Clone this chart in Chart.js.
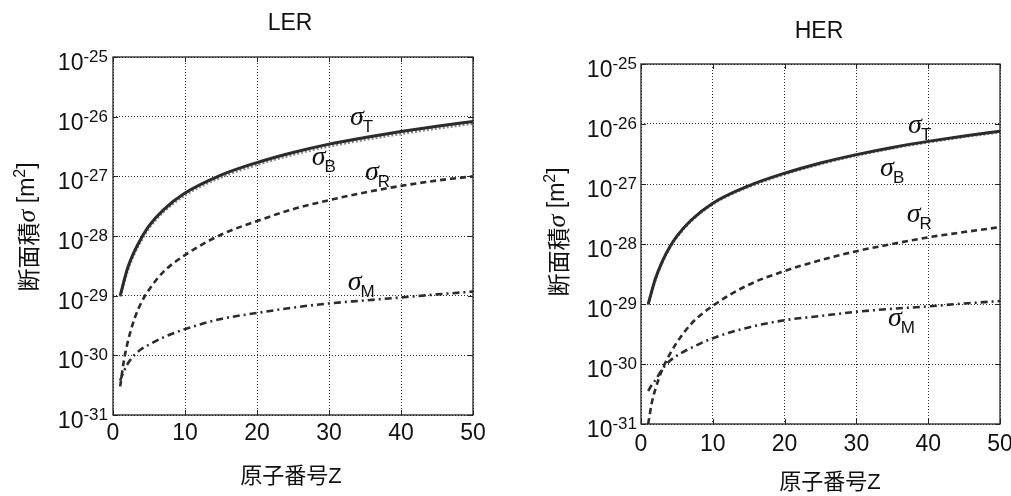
<!DOCTYPE html>
<html><head><meta charset="utf-8">
<script src="https://cdn.jsdelivr.net/npm/chart.js@4/dist/chart.umd.min.js"></script>
<style>
html,body{margin:0;padding:0;background:#fff;}
#wrap{position:relative;width:1011px;height:496px;overflow:hidden;}
#c1{position:absolute;left:0;top:0;}
#c2{position:absolute;left:505px;top:0;}
</style></head>
<body><div id="wrap"><canvas id="c1" width="505" height="496"></canvas><canvas id="c2" width="506" height="496"></canvas></div>
<script>
// ---- data ----
const xTicks = [0, 10, 20, 30, 40, 50];
const yTicks = [1e-31, 1e-30, 1e-29, 1e-28, 1e-27, 1e-26, 1e-25];
const yTickExp = ['-31', '-30', '-29', '-28', '-27', '-26', '-25'];

// LER
const zLER_TB = [1, 2, 3, 4, 5, 7, 10, 15, 20, 25, 30, 35, 40, 45, 50];
const ler_T = [1.0e-29, 2.82e-29, 5.62e-29, 9.55e-29, 1.48e-28, 2.75e-28, 5.25e-28, 1.05e-27, 1.70e-27, 2.51e-27, 3.47e-27, 4.47e-27, 5.62e-27, 6.92e-27, 8.32e-27];
const ler_B = [9.6e-30, 2.6e-29, 5.2e-29, 8.8e-29, 1.37e-28, 2.54e-28, 4.85e-28, 9.7e-28, 1.57e-27, 2.32e-27, 3.2e-27, 4.13e-27, 5.19e-27, 6.39e-27, 7.68e-27];
const zLER_RM = [1, 1.5, 2, 3, 4, 5, 7, 10, 15, 20, 25, 30, 35, 40, 45, 50];
const ler_R = [3.02e-31, 7.94e-31, 1.58e-30, 4.17e-30, 7.94e-30, 1.26e-29, 2.51e-29, 4.79e-29, 1.05e-28, 1.78e-28, 2.82e-28, 3.98e-28, 5.37e-28, 6.92e-28, 8.51e-28, 1.0e-27];
const ler_M = [3.8e-31, 5.37e-31, 7.08e-31, 1.02e-30, 1.29e-30, 1.51e-30, 2.0e-30, 2.75e-30, 4.07e-30, 5.13e-30, 6.31e-30, 7.41e-30, 8.32e-30, 9.33e-30, 1.05e-29, 1.17e-29];

// HER
const zHER_TB = [1, 2, 3, 4, 5, 7, 10, 15, 20, 25, 30, 35, 40, 45, 50];
const her_T = [1.0e-29, 2.63e-29, 5.25e-29, 8.91e-29, 1.35e-28, 2.51e-28, 4.79e-28, 9.33e-28, 1.51e-27, 2.24e-27, 3.09e-27, 4.07e-27, 5.13e-27, 6.31e-27, 7.59e-27];
const her_B = [9.7e-30, 2.55e-29, 5.1e-29, 8.64e-29, 1.31e-28, 2.43e-28, 4.65e-28, 9.05e-28, 1.46e-27, 2.17e-27, 3.0e-27, 3.95e-27, 4.98e-27, 6.12e-27, 7.36e-27];
const zHER_R = [1, 1.5, 2, 3, 4, 5, 7, 10, 15, 20, 25, 30, 35, 40, 45, 50];
const her_R = [1.0e-31, 2.24e-31, 3.8e-31, 8.32e-31, 1.45e-30, 2.29e-30, 4.68e-30, 9.33e-30, 2.09e-29, 3.55e-29, 5.37e-29, 7.59e-29, 1.0e-28, 1.29e-28, 1.58e-28, 1.91e-28];
const zHER_M = [1, 1.5, 2, 3, 4, 5, 7, 10, 15, 20, 25, 30, 35, 40, 45, 50];
const her_M = [3.55e-31, 4.47e-31, 5.37e-31, 8.32e-31, 1.12e-30, 1.38e-30, 1.86e-30, 2.69e-30, 4.07e-30, 5.37e-30, 6.31e-30, 7.41e-30, 8.32e-30, 9.12e-30, 1.02e-29, 1.12e-29];

// curve labels (subscript, Z, sigma)
const lerLabelSub = ['T', 'B', 'R', 'M'];
const lerLabelZ = [32.9, 27.6, 35.0, 32.6];
const lerLabelV = [7.24e-27, 1.55e-27, 8.7e-28, 1.26e-29];
const herLabelSub = ['T', 'B', 'R', 'M'];
const herLabelZ = [37.2, 33.3, 37.0, 34.4];
const herLabelV = [7.08e-27, 1.38e-27, 2.29e-28, 4.37e-30];

const titles = ['LER', 'HER'];
const xTitle = '原子番号Z';

// ---- helpers ----
const pts = (zs, vs) => zs.map((z, i) => ({x: z, y: vs[i]}));
const SANS = '"Liberation Sans", "Noto Sans CJK JP", sans-serif';

const deco = {
  id: 'deco',
  afterDraw(chart, args, o) {
    const {ctx, chartArea: a, scales: {x, y}} = chart;
    ctx.save();
    ctx.setLineDash([]);
    // frame
    ctx.strokeStyle = '#222';
    ctx.lineWidth = 1.3;
    ctx.strokeRect(a.left, a.top, a.right - a.left, a.bottom - a.top);
    // inward ticks
    ctx.lineWidth = 1;
    ctx.beginPath();
    yTicks.forEach(v => {
      const py = Math.round(y.getPixelForValue(v)) + 0.5;
      ctx.moveTo(a.left, py); ctx.lineTo(a.left + 5, py);
      ctx.moveTo(a.right, py); ctx.lineTo(a.right - 5, py);
    });
    xTicks.forEach(v => {
      const px = Math.round(x.getPixelForValue(v)) + 0.5;
      ctx.moveTo(px, a.bottom); ctx.lineTo(px, a.bottom - 5);
      ctx.moveTo(px, a.top); ctx.lineTo(px, a.top + 5);
    });
    ctx.stroke();

    ctx.fillStyle = '#111';
    // y tick labels 10^n
    yTicks.forEach((v, i) => {
      const py = y.getPixelForValue(v);
      const right = a.left - o.tickGap;
      ctx.textAlign = 'right';
      ctx.textBaseline = 'alphabetic';
      ctx.font = '17px ' + SANS;
      const ew = ctx.measureText(yTickExp[i]).width;
      ctx.fillText(yTickExp[i], right, py + 5);
      ctx.font = '23px ' + SANS;
      ctx.fillText('10', right - ew, py + 13);
    });
    // x tick labels
    ctx.textAlign = 'center';
    ctx.textBaseline = 'middle';
    ctx.font = '23px ' + SANS;
    xTicks.forEach(v => {
      ctx.fillText(String(v), x.getPixelForValue(v), a.bottom + o.xTickDy);
    });
    // title
    ctx.font = '23px ' + SANS;
    ctx.fillText(o.title, o.titleX, o.titleY);
    // x title
    ctx.font = '22px ' + SANS;
    ctx.fillText(xTitle, o.xTitleX, o.xTitleY);
    // y title (rotated)
    const parts = [
      {t: '断面積', f: '23px "Noto Sans CJK JP", sans-serif', dy: 0},
      {t: 'σ ', f: 'italic 26px "Liberation Serif", serif', dy: 0},
      {t: '[m', f: '23px ' + SANS, dy: 0},
      {t: '2', f: '16px ' + SANS, dy: -7},
      {t: ']', f: '23px ' + SANS, dy: 0}
    ];
    let tw = 0;
    parts.forEach(p => { ctx.font = p.f; p.w = ctx.measureText(p.t).width; tw += p.w; });
    ctx.save();
    ctx.translate(o.yTitleX, o.yTitleY);
    ctx.rotate(-Math.PI / 2);
    ctx.textAlign = 'left';
    ctx.textBaseline = 'middle';
    let cx = -tw / 2;
    parts.forEach(p => { ctx.font = p.f; ctx.fillText(p.t, cx, p.dy); cx += p.w; });
    ctx.restore();
    // curve labels
    ctx.textAlign = 'left';
    ctx.textBaseline = 'alphabetic';
    o.labSub.forEach((s, i) => {
      const px = x.getPixelForValue(o.labZ[i]);
      const py = y.getPixelForValue(o.labV[i]);
      ctx.font = 'italic 28px "Liberation Serif", serif';
      ctx.fillText('σ', px, py);
      const w = ctx.measureText('σ').width;
      ctx.font = '17px ' + SANS;
      ctx.fillText(s, px + w - 1, py + 7);
    });
    ctx.restore();
  }
};

function makeChart(id, ds, pad, o) {
  return new Chart(document.getElementById(id), {
    type: 'line',
    data: {datasets: ds},
    options: {
      responsive: false,
      animation: false,
      devicePixelRatio: 1,
      layout: {padding: pad},
      plugins: {legend: {display: false}, tooltip: {enabled: false}, title: {display: false}, deco: o},
      elements: {point: {radius: 0}, line: {cubicInterpolationMode: 'monotone'}},
      scales: {
        x: {
          type: 'linear', min: 0, max: 50,
          afterBuildTicks: s => { s.ticks = xTicks.map(v => ({value: v})); },
          ticks: {display: false},
          grid: {drawTicks: false, color: '#333', lineWidth: 1},
          border: {display: false, dash: [1, 2]}
        },
        y: {
          type: 'logarithmic', min: 1e-31, max: 1e-25,
          afterBuildTicks: s => { s.ticks = yTicks.map(v => ({value: v})); },
          ticks: {display: false},
          grid: {drawTicks: false, color: '#333', lineWidth: 1},
          border: {display: false, dash: [1, 2]}
        }
      }
    },
    plugins: [deco]
  });
}

const styleT = {borderColor: '#2b2b2b', borderWidth: 3, fill: false};
const styleB = {borderColor: '#8a8a8a', borderWidth: 3, borderDash: [2, 2], fill: false};
const styleR = {borderColor: '#2b2b2b', borderWidth: 2.6, borderDash: [6, 4], fill: false};
const styleM = {borderColor: '#2b2b2b', borderWidth: 2.6, borderDash: [7, 4, 2, 4], fill: false};

makeChart('c1', [
  Object.assign({label: 'σT', data: pts(zLER_TB, ler_T), order: 0}, styleT),
  Object.assign({label: 'σB', data: pts(zLER_TB, ler_B), order: 1}, styleB),
  Object.assign({label: 'σR', data: pts(zLER_RM, ler_R), order: 2}, styleR),
  Object.assign({label: 'σM', data: pts(zLER_RM, ler_M), order: 3}, styleM)
], {left: 113, right: 32, top: 57, bottom: 81}, {
  title: titles[0], titleX: 290, titleY: 24, xTitleX: 291, xTitleY: 477,
  yTitleX: 28, yTitleY: 227, tickGap: 5, xTickDy: 19,
  labSub: lerLabelSub, labZ: lerLabelZ, labV: lerLabelV
});

makeChart('c2', [
  Object.assign({label: 'σT', data: pts(zHER_TB, her_T), order: 0}, styleT),
  Object.assign({label: 'σB', data: pts(zHER_TB, her_B), order: 1}, styleB),
  Object.assign({label: 'σR', data: pts(zHER_R, her_R), order: 2}, styleR),
  Object.assign({label: 'σM', data: pts(zHER_M, her_M), order: 3}, styleM)
], {left: 136, right: 11, top: 64, bottom: 72}, {
  title: titles[1], titleX: 314, titleY: 32, xTitleX: 325, xTitleY: 483,
  yTitleX: 53, yTitleY: 232, tickGap: 4, xTickDy: 21,
  labSub: herLabelSub, labZ: herLabelZ, labV: herLabelV
});
</script>
</body></html>
